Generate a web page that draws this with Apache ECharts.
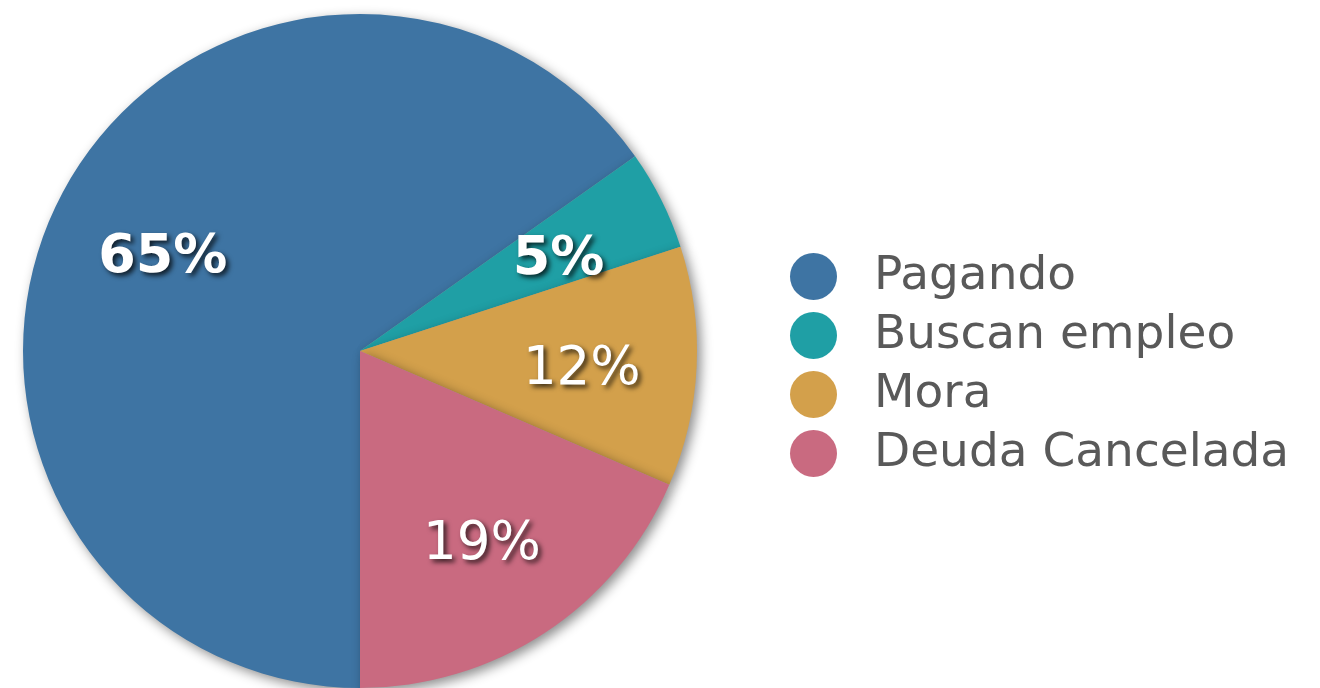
<!DOCTYPE html>
<html>
<head>
<meta charset="utf-8">
<script src="https://cdn.jsdelivr.net/npm/echarts@6/dist/echarts.min.js"></script>
<style>
html,body{margin:0;padding:0;background:#fff;}
#chart{width:1320px;height:688px;}
</style>
</head>
<body>
<div id="chart"></div>
<script>
const categories = ['Pagando', 'Buscan empleo', 'Mora', 'Deuda Cancelada'];
const values = [65.2, 4.8, 11.5, 18.5];
const labelsText = ['65%', '5%', '12%', '19%'];
const colors = ['#3e74a3', '#1f9fa5', '#d3a04b', '#c96a80'];
const boldLabel = [true, true, false, false];

const chart = echarts.init(document.getElementById('chart'), null, {renderer: 'canvas'});
const R = 337;
const center = [360, 351];

const pieData = categories.map((c, i) => ({
  name: c, value: values[i],
  itemStyle: {color: colors[i]}
}));
const labelData = categories.map((c, i) => ({
  name: c, value: values[i],
  label: {
    fontWeight: boldLabel[i] ? 'bold' : 'normal',
    fontSize: boldLabel[i] ? 54 : 53
  }
}));

chart.setOption({
  animation: false,
  legend: {
    orient: 'vertical',
    left: 785,
    top: 248,
    icon: 'circle',
    itemWidth: 47,
    itemHeight: 47,
    itemGap: 12,
    data: categories,
    textStyle: {
      fontFamily: 'DejaVu Sans',
      fontSize: 47,
      color: '#595959',
      lineHeight: 47,
      padding: [0, 0, 0, 32]
    }
  },
  series: [
    {
      type: 'pie',
      center: center,
      radius: [0, R],
      startAngle: 270,
      clockwise: true,
      label: {show: false},
      labelLine: {show: false},
      emphasis: {disabled: true},
      itemStyle: {
        borderWidth: 0,
        shadowBlur: 12,
        shadowOffsetX: 4,
        shadowOffsetY: 4,
        shadowColor: 'rgba(0,0,0,0.45)'
      },
      data: pieData
    },
    {
      type: 'pie',
      center: center,
      radius: [R * 0.3, R],
      startAngle: 270,
      clockwise: true,
      silent: true,
      legendHoverLink: false,
      emphasis: {disabled: true},
      itemStyle: {color: 'rgba(0,0,0,0)', borderWidth: 0},
      labelLine: {show: false},
      label: {
        show: true,
        position: 'inside',
        offset: [0, 9],
        formatter: p => labelsText[p.dataIndex],
        fontFamily: 'DejaVu Sans',
        fontSize: 53,
        color: '#ffffff',
        textShadowColor: 'rgba(0,0,0,0.75)',
        textShadowBlur: 5,
        textShadowOffsetX: 3,
        textShadowOffsetY: 3
      },
      data: labelData
    }
  ]
});
</script>
</body>
</html>
